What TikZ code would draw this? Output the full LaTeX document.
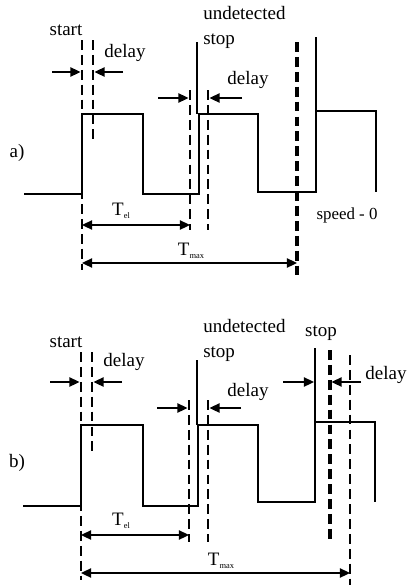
\documentclass[tikz,border=0pt]{standalone}
\usepackage{fontspec}
\setmainfont{Liberation Serif}
\usepackage{tikz}
\usetikzlibrary{arrows.meta, positioning, calc}

\newcommand{\tsub}[1]{T{\fontsize{6}{7}\selectfont\raisebox{-2.5pt}{#1}}}

\begin{document}
\begin{tikzpicture}[
    x=0.025cm, y=-0.025cm,
    sig/.style={line width=1.35pt, line join=miter},
    stopline/.style={line width=1.2pt},
    dline/.style={line width=1.6pt, dash pattern=on 7pt off 3.6pt},
    bline/.style={line width=2.3pt, dash pattern=on 7pt off 3.6pt},
    arr/.style={-{Triangle[length=7.2pt, width=6.6pt]}, line width=1.2pt},
    darr/.style={{Triangle[length=7.2pt, width=6.6pt]}-{Triangle[length=7.2pt, width=6.6pt]}, line width=1.2pt},
    lbl/.style={inner sep=0pt, font=\fontsize{13.5}{17.5}\selectfont},
    slbl/.style={inner sep=0pt, font=\fontsize{12}{14}\selectfont}
]
\useasboundingbox (0,0) rectangle (407,586);

% ---------- a) ----------
\node[lbl] (alabel) at (17,153) {a)};
\node[lbl] (astart) at (66,30) {start};
\node[lbl] (adelay1) at (125,53) {delay};
\node[lbl, anchor=north west, align=left] (aundet) at (203,6) {undetected\\stop};
\node[lbl] (adelay2) at (248,80) {delay};
\node[slbl] (aspeed) at (347,215) {speed - 0};
\node[lbl] (atel) at (121,211) {\tsub{el}};
\node[lbl] (atmax) at (191,251) {\tsub{max}};

% signal
\draw[sig] (24,194) -- (82,194) -- (82,114) -- (143,114) -- (143,194) -- (199,194)
  -- (199,114) -- (258,114) -- (258,192) -- (316,192) -- (316,111) -- (376,111) -- (376,192);
\draw[stopline] (197,42) -- (197,114);
\draw[stopline] (316,37) -- (316,111);

% marker lines
\coordinate (aSt) at (82,40);  \coordinate (aStB) at (82,270);
\coordinate (aDl) at (93,40);  \coordinate (aDlB) at (93,143);
\coordinate (aEl) at (190,90); \coordinate (aElB) at (190,230);
\coordinate (aUd) at (208,90); \coordinate (aUdB) at (208,230);
\coordinate (aMx) at (297,42); \coordinate (aMxB) at (297,277);
\draw[dline] (aSt) -- (aStB);
\draw[dline] (aDl) -- (aDlB);
\draw[dline] (aEl) -- (aElB);
\draw[dline] (aUd) -- (aUdB);
\draw[bline] (aMx) -- (aMxB);

% delay arrows
\coordinate (aA1) at (52,72);   \coordinate (aA2) at (123,72);
\coordinate (aA3) at (158,98);  \coordinate (aA4) at (242,98);
\draw[arr] (aA1) -- ($(aSt |- aA1)+(-1.5,0)$);
\draw[arr] (aA2) -- ($(aDl |- aA2)+(1.5,0)$);
\draw[arr] (aA3) -- ($(aEl |- aA3)+(-1.5,0)$);
\draw[arr] (aA4) -- ($(aUd |- aA4)+(1.5,0)$);

% times
\draw[darr] (aSt |- 0,225) -- (aEl |- 0,225);
\draw[darr] (aSt |- 0,263) -- (aMx |- 0,263);

% ---------- b) ----------
\node[lbl] (blabel) at (17,463) {b)};
\node[lbl] (bstart) at (66,342) {start};
\node[lbl] (bdelay1) at (124,362) {delay};
\node[lbl, anchor=north west, align=left] (bundet) at (203,319) {undetected\\stop};
\node[lbl] (bdelay2) at (248,392) {delay};
\node[lbl] (bstop) at (321,333) {stop};
\node[lbl] (bdelay3) at (386,375) {delay};
\node[lbl] (btel) at (121,521) {\tsub{el}};
\node[lbl] (btmax) at (221,561) {\tsub{max}};

% signal
\draw[sig] (23,506) -- (81,506) -- (81,425) -- (143,425) -- (143,506) -- (198,506)
  -- (198,425) -- (258,425) -- (258,502) -- (315,502) -- (315,422) -- (375,422) -- (375,502);
\draw[stopline] (197,360) -- (197,425);
\draw[stopline] (315,348) -- (315,422);

% marker lines
\coordinate (bSt) at (81,352);  \coordinate (bStB) at (81,580);
\coordinate (bDl) at (92,352);  \coordinate (bDlB) at (92,455);
\coordinate (bEl) at (189,400); \coordinate (bElB) at (189,542);
\coordinate (bUd) at (208,400); \coordinate (bUdB) at (208,542);
\coordinate (bSp) at (330,350); \coordinate (bSpB) at (330,542);
\coordinate (bMx) at (350,355); \coordinate (bMxB) at (350,585);
\draw[dline] (bSt) -- (bStB);
\draw[dline] (bDl) -- (bDlB);
\draw[dline] (bEl) -- (bElB);
\draw[dline] (bUd) -- (bUdB);
\draw[bline] (bSp) -- (bSpB);
\draw[dline] (bMx) -- (bMxB);

% delay arrows
\coordinate (bA1) at (50,382);  \coordinate (bA2) at (122,382);
\coordinate (bA3) at (157,408); \coordinate (bA4) at (241,408);
\coordinate (bA5) at (283,382); \coordinate (bA6) at (361,382);
\draw[arr] (bA1) -- ($(bSt |- bA1)+(-1.5,0)$);
\draw[arr] (bA2) -- ($(bDl |- bA2)+(1.5,0)$);
\draw[arr] (bA3) -- ($(bEl |- bA3)+(-1.5,0)$);
\draw[arr] (bA4) -- ($(bUd |- bA4)+(1.5,0)$);
\draw[arr] (bA5) -- ($(bSp |- bA5)+(-16,0)$);
\draw[arr] (bA6) -- ($(bSp |- bA6)+(1.5,0)$);

% times
\draw[darr] (bSt |- 0,535) -- (bEl |- 0,535);
\draw[darr] (bSt |- 0,573) -- (bMx |- 0,573);

\end{tikzpicture}
\end{document}
